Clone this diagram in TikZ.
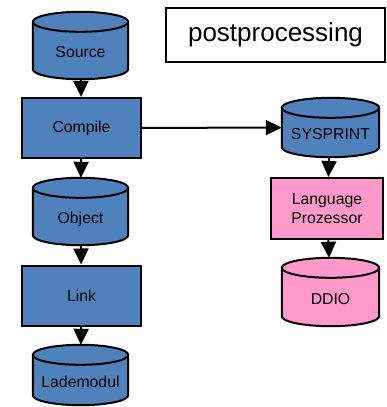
\documentclass[tikz,border=0pt]{standalone}
\usepackage{fontspec}
\setmainfont{Liberation Sans}
\usetikzlibrary{arrows.meta}
\usetikzlibrary{calc}
\usetikzlibrary{backgrounds}
\definecolor{dsblue}{HTML}{4F81BD}
\definecolor{dspink}{HTML}{FF99CC}
\tikzset{
    dataset/.style={rectangle, minimum width=95pt, minimum height=67pt,
        inner sep=0pt, text height=24pt, text depth=0pt,
        font=\fontsize{15.8pt}{19pt}\selectfont},
    jobbox/.style={rectangle, draw, line width=2pt, fill=dsblue,
        minimum width=119pt, minimum height=60pt, align=center,
        font=\fontsize{15.8pt}{19pt}\selectfont},
    flow/.style={line width=2pt, -{Triangle[width=15pt,length=16pt]}}
}
\begin{document}
\begin{tikzpicture}[x=1pt,y=-1pt]
	\useasboundingbox (0,0) rectangle (386,407);

	% main chain
	\node[dataset] (source) at (80.5,45.5) {Source};
	\node[jobbox] (compile) at (81.5,128) {Compile};
	\node[dataset] (object) at (80.5,211.5) {Object};
	\node[jobbox] (link) at (81.5,295.5) {Link};
	\node[dataset, minimum height=60pt] (lademodul) at (80.5,375) {Lademodul};

	% postprocessing
	\node[dataset, minimum width=97pt, minimum height=59pt] (sysprint) at (330.5,127.5) {SYSPRINT};
	\node[jobbox, fill=dspink, minimum width=112pt, minimum height=61pt] (langproc)
		at (327,208.5) {Language\\Prozessor};
	\node[dataset, minimum width=97pt, minimum height=68pt] (ddio) at (330.5,292) {DDIO};

	\node[draw, line width=1.6pt, minimum width=219pt, minimum height=54pt,
		font=\fontsize{26pt}{30pt}\selectfont] (title) at (275.5,35) {postprocessing};

	% the data sets as cylinders
	\begin{scope}[on background layer]
	\foreach \ds/\col in {source/dsblue, object/dsblue, lademodul/dsblue,
			sysprint/dsblue, ddio/dspink}
		\path let \p1=(\ds.north west), \p2=(\ds.south east), \n1={(\x2-\x1)/2} in
			[fill=\col, draw, line width=2pt]
			(\x1,\y1-10pt) -- (\x1,\y2+10pt)
			arc[start angle=180, end angle=360, x radius=\n1, y radius=10pt]
			-- (\x2,\y1-10pt)
			arc[start angle=0, end angle=180, x radius=\n1, y radius=10pt] -- cycle
			(\x1,\y1-10pt) arc[start angle=180, end angle=360, x radius=\n1, y radius=10pt];
	\end{scope}

	\draw[flow] (source) -- (compile);
	\draw[flow] (compile) -- (object);
	\draw[flow] (object) -- (link);
	\draw[flow] (link) -- (lademodul);
	\draw[flow] (compile) -- (sysprint);
	\draw[flow] (sysprint) -- (langproc);
	\draw[flow] (langproc) -- (ddio);
\end{tikzpicture}
\end{document}
